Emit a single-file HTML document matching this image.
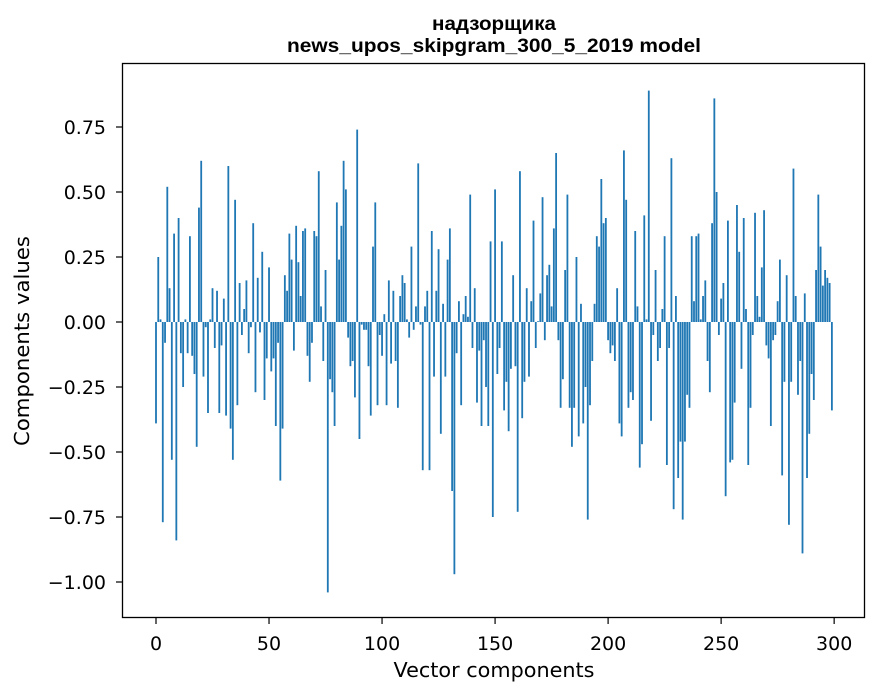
<!DOCTYPE html>
<html><head><meta charset="utf-8">
<style>
html,body{margin:0;padding:0;background:#fff;}
svg{display:block;font-family:"DejaVu Sans","Liberation Sans",sans-serif;}
</style></head>
<body>
<svg id="chart" width="880" height="696" viewBox="0 0 880 696">
<rect width="880" height="696" fill="#fff"/>
<text x="494" y="30" text-anchor="middle" font-size="19.5" font-weight="bold" font-family="Liberation Sans, sans-serif" textLength="124" lengthAdjust="spacingAndGlyphs">надзорщика</text>
<text x="494" y="52" text-anchor="middle" font-size="19.5" font-weight="bold" font-family="Liberation Sans, sans-serif" textLength="414" lengthAdjust="spacingAndGlyphs">news_upos_skipgram_300_5_2019 model</text>
<g id="bars"></g>
<g id="xticks"></g>
<g id="yticks"></g>
<rect x="122.5" y="63.5" width="742" height="554" fill="none" stroke="#000" stroke-width="1.3"/>
<text x="494" y="677" text-anchor="middle" font-size="20" textLength="201" lengthAdjust="spacingAndGlyphs">Vector components</text>
<text transform="translate(29,341) rotate(-90)" text-anchor="middle" font-size="20" textLength="210" lengthAdjust="spacingAndGlyphs">Components values</text>
</svg>
<script>
const values = [
-0.39,0.25,0.01,-0.77,-0.08,0.52,0.13,-0.53,0.34,-0.84,
0.40,-0.12,-0.25,0.01,-0.12,0.33,-0.13,-0.20,-0.48,0.44,
0.62,-0.21,-0.02,-0.35,0.01,0.13,-0.10,0.12,-0.35,-0.09,
0.09,-0.36,0.60,-0.41,-0.53,0.47,-0.32,0.15,-0.05,0.05,
0.16,-0.12,-0.02,0.38,-0.27,0.17,-0.04,0.27,-0.30,-0.14,
0.21,-0.19,-0.14,-0.40,-0.08,-0.61,-0.41,0.18,0.12,0.34,
0.24,-0.11,0.37,0.23,0.10,0.35,0.36,-0.13,-0.23,-0.08,
0.35,0.33,0.58,0.06,-0.15,0.20,-1.04,-0.22,-0.27,-0.40,
0.46,0.24,0.37,0.62,0.51,-0.06,-0.17,-0.15,-0.29,0.74,
-0.45,-0.01,-0.03,-0.03,-0.17,-0.36,0.29,0.46,-0.32,-0.05,
-0.13,0.03,-0.32,0.16,-0.16,0.12,-0.15,-0.33,0.10,0.18,
0.15,0.01,-0.06,0.29,-0.03,0.06,0.61,-0.01,-0.57,0.06,
0.12,-0.57,0.35,-0.21,0.12,0.28,-0.43,0.07,-0.21,0.24,
0.36,-0.65,-0.97,-0.12,0.08,-0.32,0.03,0.10,0.02,0.49,
-0.10,0.13,-0.31,-0.11,-0.40,-0.07,-0.25,-0.40,0.31,-0.75,
0.51,-0.20,-0.10,0.31,-0.34,-0.23,-0.42,-0.18,0.18,-0.17,
-0.73,0.58,-0.37,-0.23,0.13,-0.21,0.08,0.39,-0.10,0.003,
0.11,0.48,-0.07,0.18,0.22,0.06,0.36,0.65,-0.07,-0.33,
-0.22,0.20,0.49,-0.33,-0.48,-0.33,0.25,-0.44,0.07,-0.39,
-0.25,-0.76,-0.32,-0.15,0.07,0.33,0.29,0.55,0.38,0.40,
-0.07,-0.12,-0.09,-0.15,0.13,-0.39,-0.44,0.66,0.47,-0.33,
-0.27,-0.30,0.35,0.06,-0.56,-0.47,0.41,0.01,0.89,-0.38,
-0.05,0.20,-0.15,-0.10,0.05,0.33,-0.55,-0.10,0.63,-0.72,
0.10,-0.60,-0.46,-0.76,-0.46,-0.28,-0.33,0.33,0.08,0.33,
0.34,0.01,0.10,0.16,-0.15,-0.27,0.38,0.86,0.50,-0.05,
0.09,0.15,-0.67,0.39,-0.54,-0.53,-0.31,0.45,0.27,-0.18,
0.40,0.05,-0.55,-0.33,-0.05,0.42,0.10,0.02,0.21,0.43,
-0.09,-0.14,-0.40,-0.07,-0.05,0.08,0.24,-0.59,-0.23,0.18,
-0.78,-0.23,0.59,0.10,-0.28,-0.15,-0.89,0.11,-0.60,-0.43,
-0.20,-0.30,0.20,0.49,0.29,0.14,0.20,0.17,0.15,-0.34
];
const xTicks = [0,50,100,150,200,250,300];
const yTicks = [-1.00,-0.75,-0.50,-0.25,0.00,0.25,0.50,0.75];

const NS = "http://www.w3.org/2000/svg";
function xScale(v){ return 156 + v*2.2605; }
function yScale(v){ return 322 - v*260; }

const barsG = document.getElementById('bars');
values.forEach((v,i)=>{
  const r = document.createElementNS(NS,'rect');
  const y0 = yScale(0), y1 = yScale(v);
  r.setAttribute('x', xScale(i-0.4));
  r.setAttribute('width', 0.8*2.2605);
  r.setAttribute('y', Math.min(y0,y1));
  r.setAttribute('height', Math.max(Math.abs(y1-y0),0.3));
  r.setAttribute('fill', '#1f77b4');
  
  
  barsG.appendChild(r);
});

const xg = document.getElementById('xticks');
xTicks.forEach(t=>{
  const x = xScale(t);
  const l = document.createElementNS(NS,'line');
  l.setAttribute('x1',x); l.setAttribute('x2',x);
  l.setAttribute('y1',618); l.setAttribute('y2',624);
  l.setAttribute('stroke','#000'); l.setAttribute('stroke-width','1.2');
  
  
  xg.appendChild(l);
  const tx = document.createElementNS(NS,'text');
  tx.setAttribute('x',x); tx.setAttribute('y',650);
  tx.setAttribute('text-anchor','middle'); tx.setAttribute('font-size','19');
  tx.textContent = t;
  
  
  xg.appendChild(tx);
});

const yg = document.getElementById('yticks');
yTicks.forEach(t=>{
  const y = yScale(t);
  const l = document.createElementNS(NS,'line');
  l.setAttribute('x1',116); l.setAttribute('x2',122);
  l.setAttribute('y1',y); l.setAttribute('y2',y);
  l.setAttribute('stroke','#000'); l.setAttribute('stroke-width','1.2');
  
  
  yg.appendChild(l);
  const tx = document.createElementNS(NS,'text');
  tx.setAttribute('x',106); tx.setAttribute('y',y+7);
  tx.setAttribute('text-anchor','end'); tx.setAttribute('font-size','19');
  tx.textContent = (t<0?'\u2212':'') + Math.abs(t).toFixed(2);
  
  
  yg.appendChild(tx);
});
</script>
</body></html>
